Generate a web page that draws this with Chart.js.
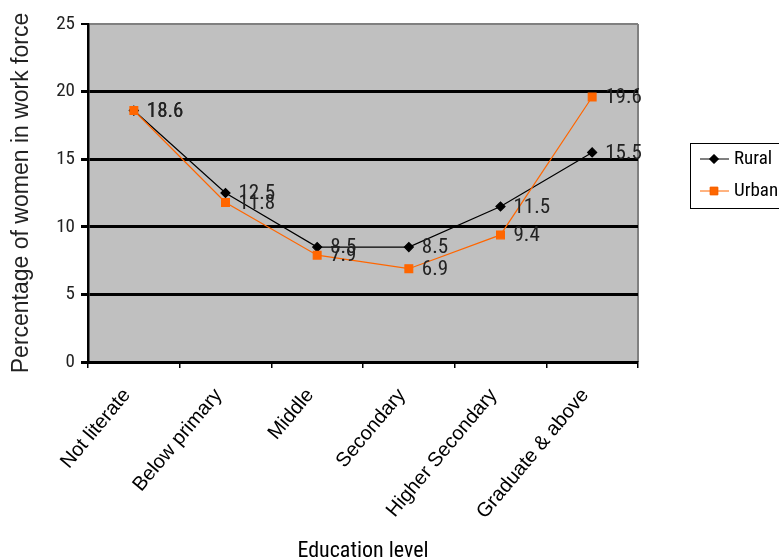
<!DOCTYPE html>
<html>
<head>
<meta charset="utf-8">
<script src="https://cdn.jsdelivr.net/npm/chart.js@4.4.0/dist/chart.umd.min.js"></script>
<style>
  html, body { margin: 0; padding: 0; background: #ffffff; }
  #wrap { width: 779px; height: 559px; }
</style>
</head>
<body>
<div id="wrap"><canvas id="womenChart" width="779" height="559"></canvas></div>
<script>
// Women in work force by education level

const categories = ['Not literate', 'Below primary', 'Middle', 'Secondary', 'Higher Secondary', 'Graduate & above'];
const ruralValues = [18.6, 12.5, 8.5, 8.5, 11.5, 15.5];
const urbanValues = [18.6, 11.8, 7.9, 6.9, 9.4, 19.6];
const yMin = 0;
const yMax = 25;
const yStep = 5;

const COND = "'Roboto Condensed', 'Liberation Sans', Arial, sans-serif";
const SANS = "'Liberation Sans', Arial, sans-serif";
const ORANGE = '#FF6600';

// grey plot area + right border
const plotBackground = {
    id: 'plotBackground',
    beforeDraw(chart) {
        const { ctx, chartArea: a } = chart;
        ctx.save();
        ctx.fillStyle = '#C0C0C0';
        ctx.fillRect(a.left, a.top, a.right - a.left, a.bottom - a.top);
        ctx.strokeStyle = '#808080';
        ctx.lineWidth = 2;
        ctx.beginPath();
        ctx.moveTo(a.right, a.top);
        ctx.lineTo(a.right, a.bottom);
        ctx.stroke();
        ctx.restore();
    }
};

// value labels to the right of each point
const valueLabels = {
    id: 'valueLabels',
    afterDatasetsDraw(chart) {
        const ctx = chart.ctx;
        ctx.save();
        ctx.font = '21px ' + COND;
        ctx.fillStyle = '#222222';
        ctx.textAlign = 'left';
        ctx.textBaseline = 'middle';
        chart.data.datasets.forEach((ds, i) => {
            const meta = chart.getDatasetMeta(i);
            meta.data.forEach((pt, j) => {
                ctx.fillText(ds.data[j].toFixed(1), pt.x + 13, pt.y + 1);
            });
        });
        ctx.restore();
    }
};

// boxed legend on the right
const boxLegend = {
    id: 'boxLegend',
    afterDraw(chart) {
        const ctx = chart.ctx;
        ctx.save();
        ctx.strokeStyle = '#000000';
        ctx.lineWidth = 1;
        ctx.strokeRect(690.5, 143.5, 100, 65);
        const items = [
            { label: 'Rural', idx: 0, y: 159 },
            { label: 'Urban', idx: 1, y: 191 }
        ];
        items.forEach(it => {
            const ds = chart.data.datasets[it.idx];
            ctx.strokeStyle = ds.borderColor;
            ctx.lineWidth = 1;
            ctx.beginPath();
            ctx.moveTo(700, it.y);
            ctx.lineTo(729, it.y);
            ctx.stroke();
            Chart.helpers.drawPoint(ctx, {
                pointStyle: ds.pointStyle,
                radius: ds.pointRadius,
                borderWidth: 1
            }, 714, it.y);
            ctx.fillStyle = ds.pointBackgroundColor;
            ctx.fill();
            ctx.fillStyle = '#000000';
            ctx.font = '19px ' + COND;
            ctx.textAlign = 'left';
            ctx.textBaseline = 'middle';
            ctx.fillText(it.label, 734, it.y);
        });
        ctx.restore();
    }
};

new Chart(document.getElementById('womenChart').getContext('2d'), {
    type: 'line',
    data: {
        labels: categories,
        datasets: [{
            label: 'Rural',
            data: ruralValues,
            borderColor: '#000000',
            backgroundColor: '#000000',
            pointBackgroundColor: '#000000',
            pointBorderColor: '#000000',
            pointStyle: 'rectRot',
            pointRadius: 4.5,
            borderWidth: 1.2,
            tension: 0,
            order: 1
        }, {
            label: 'Urban',
            data: urbanValues,
            borderColor: ORANGE,
            backgroundColor: ORANGE,
            pointBackgroundColor: ORANGE,
            pointBorderColor: ORANGE,
            pointStyle: 'rect',
            pointRadius: 5.5,
            borderWidth: 1.2,
            tension: 0,
            order: 0
        }]
    },
    options: {
        responsive: false,
        animation: false,
        layout: { padding: { left: 0, top: 24, right: 141, bottom: -6 } },
        plugins: {
            legend: { display: false },
            tooltip: { enabled: false }
        },
        scales: {
            x: {
                offset: true,
                grid: {
                    offset: true,
                    drawOnChartArea: false,
                    drawTicks: true,
                    tickLength: 6,
                    color: '#000000',
                    lineWidth: 1.5
                },
                border: { display: true, color: '#000000', width: 3 },
                ticks: {
                    color: '#000000',
                    font: { family: SANS, size: 20 },
                    minRotation: 50,
                    maxRotation: 50,
                    padding: 16,
                    labelOffset: -7,
                    autoSkip: false
                },
                title: {
                    display: true,
                    text: 'Education level',
                    color: '#000000',
                    font: { family: COND, size: 22 },
                    padding: { top: 0, bottom: 0 }
                },
                afterFit(scale) { scale.height = 203; }
            },
            y: {
                min: yMin,
                max: yMax,
                ticks: {
                    stepSize: yStep,
                    color: '#222222',
                    font: { family: COND, size: 19 },
                    padding: 6
                },
                grid: {
                    color: (c) => c.tick && c.tick.value === yMax ? '#808080' : '#000000',
                    lineWidth: (c) => c.tick && c.tick.value === yMax ? 2 : 3,
                    tickColor: '#000000',
                    tickLength: 7,
                    drawTicks: true
                },
                border: { display: true, color: '#000000', width: 2.5 },
                title: {
                    display: true,
                    text: 'Percentage of women in work force',
                    color: '#222222',
                    font: { family: SANS, size: 23 },
                    padding: { top: 8, bottom: 0 }
                },
                afterFit(scale) { scale.width = 88; }
            }
        }
    },
    plugins: [plotBackground, valueLabels, boxLegend]
});
</script>
</body>
</html>
